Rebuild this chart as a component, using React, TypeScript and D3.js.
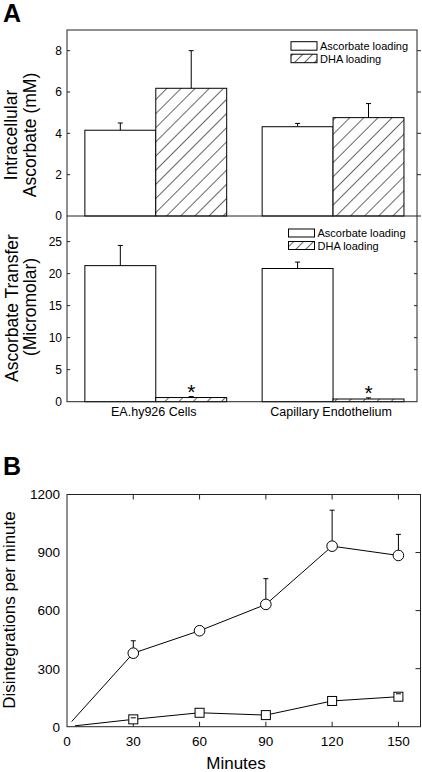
import React from 'react';
import * as d3 from 'd3';

const groups = ['EA.hy926 Cells', 'Capillary Endothelium'];
const seriesNames = ['Ascorbate loading', 'DHA loading'];

const intraAsc = [4.15, 4.32];
const intraAscErr = [0.35, 0.16];
const intraDha = [6.18, 4.76];
const intraDhaErr = [1.82, 0.68];

const transferAsc = [21.25, 20.8];
const transferAscErr = [3.15, 1.0];
const transferDha = [0.65, 0.42];
const transferDhaErr = [0.15, 0.18];
const transferStars = [true, true];

const intraTicks = [0, 2, 4, 6, 8];
const transferTicks = [0, 5, 10, 15, 20, 25];

const minutes = [0, 30, 60, 90, 120, 150];
const circleVals = [0, 380, 496, 632, 933, 885];
const circleErr = [0, 64, 0, 133, 186, 109];
const squareVals = [0, 38, 72, 60, 133, 155];
const squareErr = [0, 8, 0, 0, 0, 15];
const dpmTicks = [0, 300, 600, 900, 1200];
const minuteTicks = [0, 30, 60, 90, 120, 150];

const FONT = '"Liberation Sans", Arial, Helvetica, sans-serif';
const FRAME = '#222';

export default function App() {
  const left = 67;
  const right = 417;
  const topA = 30;
  const midA = 216;
  const botA = 401.7;

  const xg = d3.scaleBand<string>().domain(groups).range([left, right + 1]).paddingInner(0.2).paddingOuter(0.09).align(0.56);
  const xs = d3.scaleBand<string>().domain(seriesNames).range([0, xg.bandwidth()]);
  const y1 = d3.scaleLinear().domain([0, 9]).range([midA, topA]);
  const y2 = d3.scaleLinear().domain([0, 29]).range([botA, midA]);

  const bx = d3.scaleLinear().domain([0, 160]).range([67, 420.5]);
  const by = d3.scaleLinear().domain([0, 1200]).range([726.7, 494.5]);

  const renderBars = (
    y: d3.ScaleLinear<number, number>,
    asc: number[],
    ascErr: number[],
    dha: number[],
    dhaErr: number[],
    key: string
  ) => {
    const out: React.ReactNode[] = [];
    groups.forEach((g, gi) => {
      [asc, dha].forEach((vals, si) => {
        const errs = si === 0 ? ascErr : dhaErr;
        const x0 = (xg(g) ?? 0) + (xs(seriesNames[si]) ?? 0);
        const w = xs.bandwidth();
        const cx = x0 + w / 2;
        const v = vals[gi];
        const e = errs[gi];
        out.push(
          <g key={`${key}-${gi}-${si}`}>
            <line x1={cx} x2={cx} y1={y(v)} y2={y(v + e)} stroke="#000" strokeWidth={1} />
            <line x1={cx - 2.5} x2={cx + 2.5} y1={y(v + e)} y2={y(v + e)} stroke="#000" strokeWidth={1} />
            <rect x={x0} y={y(v)} width={w} height={y(0) - y(v)} fill={si === 0 ? '#fff' : 'url(#hatch)'} stroke="#000" strokeWidth={1} />
          </g>
        );
      });
    });
    return out;
  };

  const legend = (x: number, yTop: number, boxW: number, boxH: number, gap: number, key: string) => (
    <g key={key} fontFamily={FONT} fontSize={11}>
      {seriesNames.map((s, i) => (
        <g key={s}>
          <rect x={x} y={yTop + i * gap} width={boxW} height={boxH} fill={i === 0 ? '#fff' : 'url(#hatchL)'} stroke="#000" strokeWidth={1} />
          <text x={x + boxW + 3} y={yTop + i * gap + boxH} fill="#000">{s}</text>
        </g>
      ))}
    </g>
  );

  const seriesLine = (vals: number[], gap: number) => {
    const pts = minutes.map((m, i) => [bx(m), by(vals[i])] as [number, number]);
    const [p0, p1] = pts;
    const dx = p1[0] - p0[0];
    const dy = p1[1] - p0[1];
    const len = Math.hypot(dx, dy);
    const start: [number, number] = [p0[0] + (dx / len) * gap, p0[1] + (dy / len) * gap];
    return d3.line()([start, ...pts.slice(1)]) ?? '';
  };

  const errBar = (m: number, v: number, e: number, r: number, key: string) => {
    if (e <= 0) return null;
    const cx = bx(m);
    const yc = by(v);
    const yt = by(v + e);
    return (
      <g key={key}>
        {yt < yc - r && <line x1={cx} x2={cx} y1={yc - r} y2={yt} stroke="#000" strokeWidth={1} />}
        <line x1={cx - 2.5} x2={cx + 2.5} y1={yt} y2={yt} stroke="#000" strokeWidth={1} />
      </g>
    );
  };

  return (
    <div style={{ position: 'absolute', left: 0, top: 0 }}>
      <svg width={422} height={772} style={{ display: 'block', background: '#fff' }}>
        <defs>
          <pattern id="hatch" patternUnits="userSpaceOnUse" width={10} height={10} patternTransform="rotate(45)">
            <rect width={10} height={10} fill="#fff" />
            <line x1={0} y1={0} x2={0} y2={10} stroke="#000" strokeWidth={1.2} />
          </pattern>
          <pattern id="hatchL" patternUnits="userSpaceOnUse" width={7} height={7} patternTransform="rotate(45)">
            <rect width={7} height={7} fill="#fff" />
            <line x1={0} y1={0} x2={0} y2={7} stroke="#000" strokeWidth={1.2} />
          </pattern>
        </defs>

        <text x={3} y={22} fontFamily={FONT} fontWeight="bold" fontSize={25} fill="#000">A</text>
        <text x={3} y={475} fontFamily={FONT} fontWeight="bold" fontSize={25} fill="#000">B</text>

        {renderBars(y1, intraAsc, intraAscErr, intraDha, intraDhaErr, 'a1')}
        {renderBars(y2, transferAsc, transferAscErr, transferDha, transferDhaErr, 'a2')}

        {groups.map((g, gi) =>
          transferStars[gi] ? (
            <text
              key={`star-${gi}`}
              x={(xg(g) ?? 0) + (xs(seriesNames[1]) ?? 0) + xs.bandwidth() / 2}
              y={y2(transferDha[gi] + transferDhaErr[gi]) + 2}
              textAnchor="middle"
              fontFamily={FONT}
              fontSize={21}
              fill="#000"
            >
              *
            </text>
          ) : null
        )}

        <rect x={left} y={topA} width={right - left} height={botA - topA} fill="none" stroke={FRAME} strokeWidth={1} />
        <line x1={left} x2={421} y1={midA} y2={midA} stroke={FRAME} strokeWidth={1} />

        {intraTicks.map((t) => (
          <g key={`it-${t}`}>
            {t > 0 && <line x1={left} x2={left + 3} y1={y1(t)} y2={y1(t)} stroke={FRAME} />}
            {t > 0 && <line x1={right} x2={right + 4} y1={y1(t)} y2={y1(t)} stroke={FRAME} />}
            <text x={62} y={y1(t)} dy="0.36em" textAnchor="end" fontFamily={FONT} fontSize={12} fill="#000">{t}</text>
          </g>
        ))}
        {transferTicks.map((t) => (
          <g key={`tt-${t}`}>
            {t > 0 && <line x1={left} x2={left + 3} y1={y2(t)} y2={y2(t)} stroke={FRAME} />}
            {t > 0 && <line x1={right} x2={right - 3} y1={y2(t)} y2={y2(t)} stroke={FRAME} />}
            <text x={62} y={y2(t)} dy="0.36em" textAnchor="end" fontFamily={FONT} fontSize={12} fill="#000">{t}</text>
          </g>
        ))}
        {groups.map((g) => (
          <text key={`cat-${g}`} x={(xg(g) ?? 0) + xg.bandwidth() / 2 - 2} y={416} textAnchor="middle" fontFamily={FONT} fontSize={12.5} fill="#000">
            {g}
          </text>
        ))}

        {legend(291, 41.7, 26, 8.5, 12.5, 'lg1')}
        {legend(288.5, 229, 26, 8, 12.5, 'lg2')}

        <g fontFamily={FONT} fontSize={17.5} fill="#000" textAnchor="middle">
          <text transform={`translate(17,${(topA + midA) / 2 + 12}) rotate(-90)`}>Intracellular</text>
          <text transform={`translate(36,${(topA + midA) / 2 + 12}) rotate(-90)`}>Ascorbate (mM)</text>
          <text transform={`translate(18,308) rotate(-90)`}>Ascorbate Transfer</text>
          <text transform={`translate(36,307) rotate(-90)`}>(Micromolar)</text>
        </g>

        <rect x={bx(0)} y={by(1200)} width={bx(160) - bx(0)} height={by(0) - by(1200)} fill="none" stroke={FRAME} strokeWidth={1} />
        {minuteTicks.map((t) => (
          <g key={`mt-${t}`}>
            {t > 0 && <line x1={bx(t)} x2={bx(t)} y1={by(0)} y2={by(0) - 5} stroke={FRAME} />}
            {t > 0 && <line x1={bx(t)} x2={bx(t)} y1={by(1200)} y2={by(1200) + 5} stroke={FRAME} />}
            <text x={bx(t)} y={746} textAnchor="middle" fontFamily={FONT} fontSize={13.5} fill="#000">{t}</text>
          </g>
        ))}
        {dpmTicks.map((t) => (
          <g key={`dt-${t}`}>
            {t > 0 && t < 1200 && <line x1={bx(160)} x2={bx(160) - 5} y1={by(t)} y2={by(t)} stroke={FRAME} />}
            <text x={60} y={by(t)} dy="0.36em" textAnchor="end" fontFamily={FONT} fontSize={13.5} fill="#000">{t}</text>
          </g>
        ))}

        <path d={seriesLine(circleVals, 7)} fill="none" stroke="#000" strokeWidth={1} />
        <path d={seriesLine(squareVals, 8)} fill="none" stroke="#000" strokeWidth={1} />

        {minutes.map((m, i) =>
          i === 0 ? null : (
            <circle key={`c-${m}`} cx={bx(m)} cy={by(circleVals[i])} r={5.3} fill="#fff" stroke="#000" strokeWidth={1} />
          )
        )}
        {minutes.map((m, i) =>
          i === 0 ? null : (
            <rect key={`s-${m}`} x={bx(m) - 4.5} y={by(squareVals[i]) - 4.5} width={9} height={9} fill="#fff" stroke="#000" strokeWidth={1} />
          )
        )}
        {minutes.map((m, i) => errBar(m, circleVals[i], circleErr[i], 5.3, `ce-${m}`))}
        {minutes.map((m, i) => errBar(m, squareVals[i], squareErr[i], 4.5, `se-${m}`))}

        <text transform={`translate(14.5,610) rotate(-90)`} textAnchor="middle" fontFamily={FONT} fontSize={17} fill="#000">
          Disintegrations per minute
        </text>
        <text x={236} y={769} textAnchor="middle" fontFamily={FONT} fontSize={17} fill="#000">Minutes</text>
      </svg>
    </div>
  );
}
